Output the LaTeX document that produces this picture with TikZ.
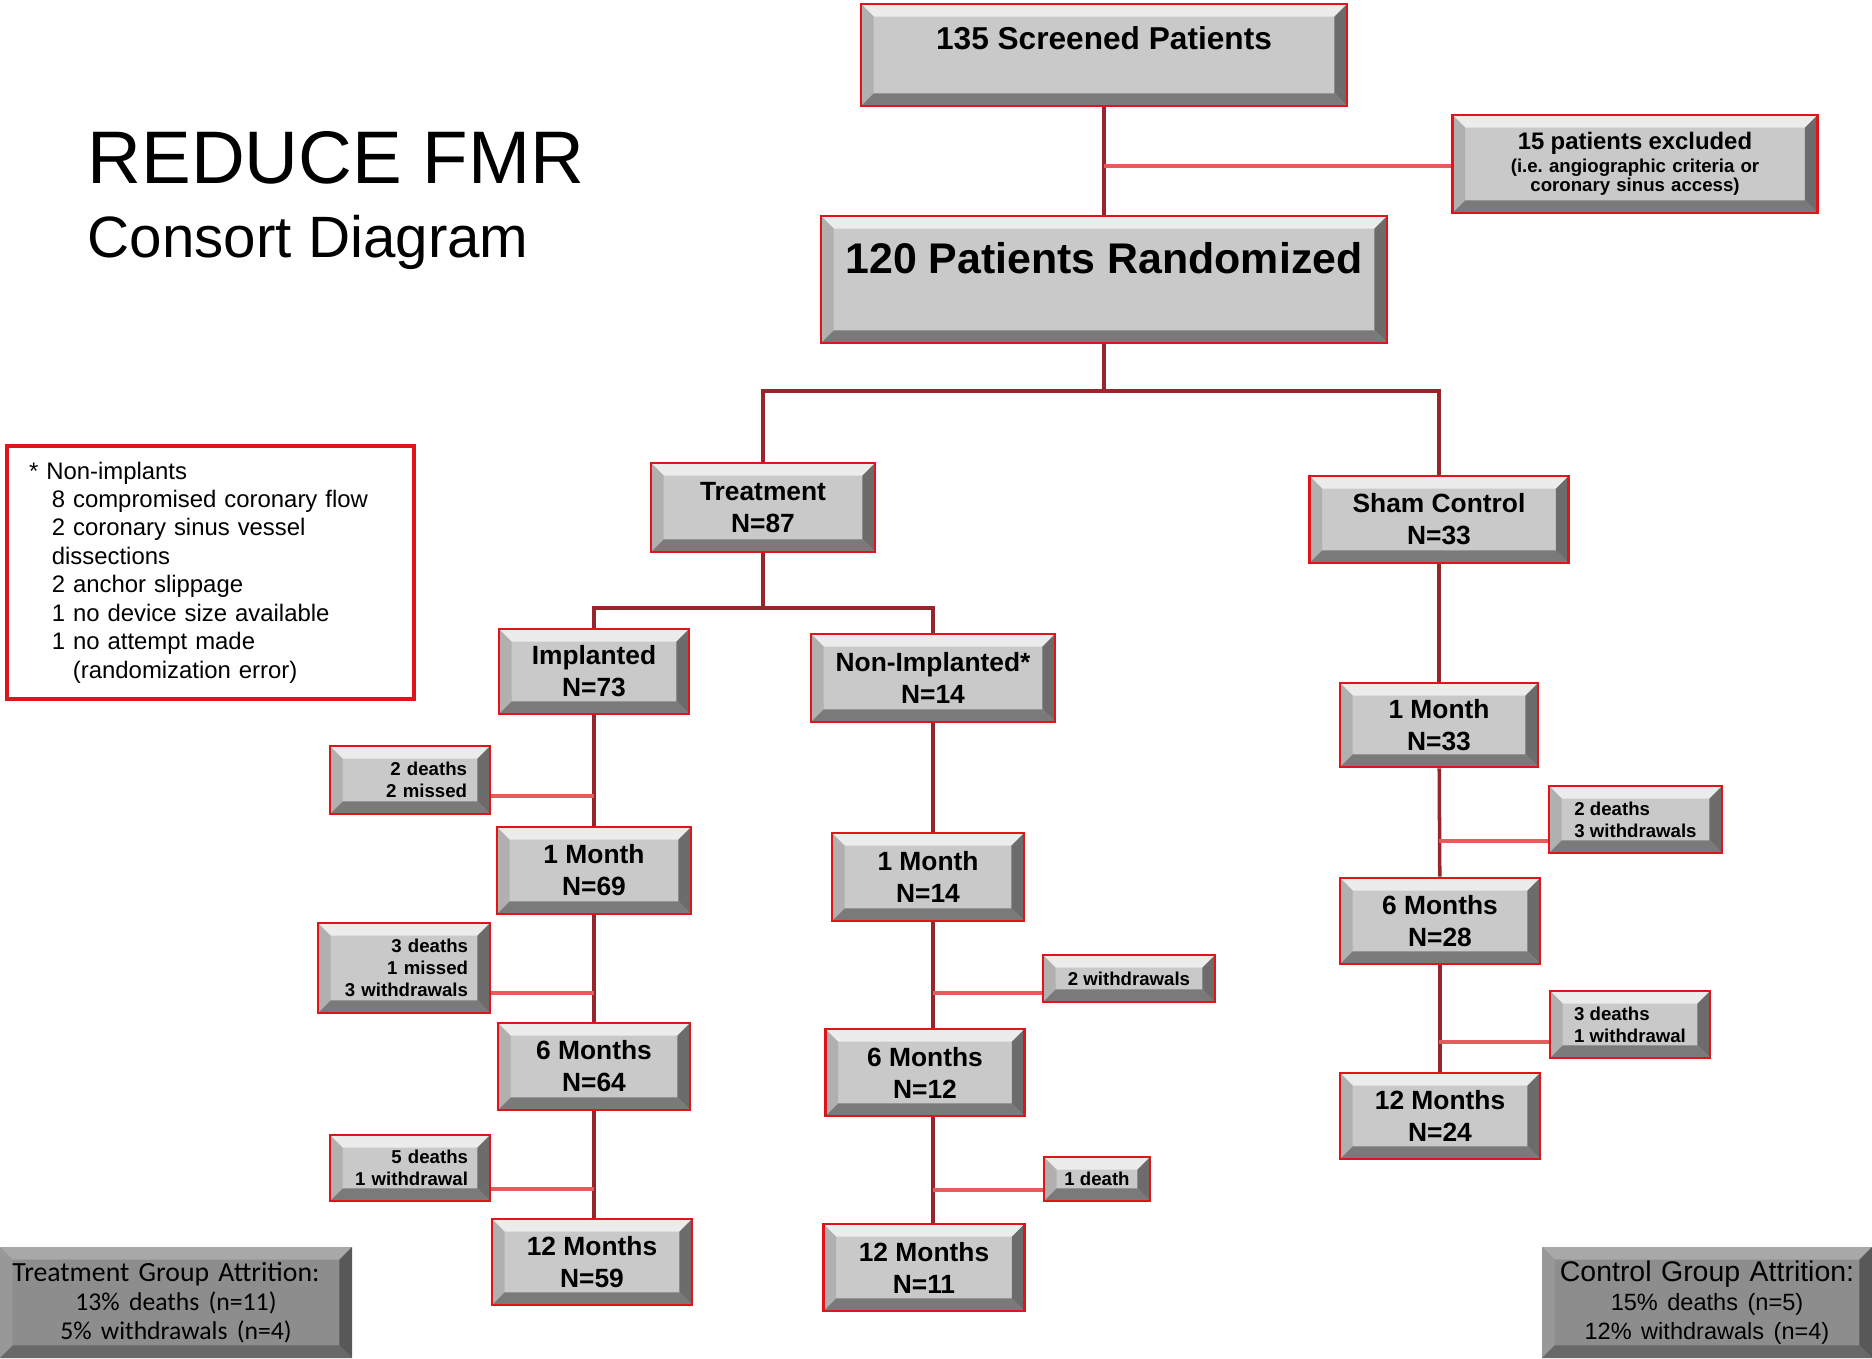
\documentclass[tikz,border=0pt]{standalone}
\usepackage{fontspec}
\setmainfont{Liberation Sans}
\newfontfamily\calibfont{Carlito}

\definecolor{boxred}{RGB}{225,20,25}
\definecolor{connred}{RGB}{150,38,44}
\definecolor{sidered}{RGB}{230,92,92}
\definecolor{bvface}{RGB}{201,201,201}
\definecolor{bvtop}{RGB}{236,236,236}
\definecolor{bvleft}{RGB}{176,176,176}
\definecolor{bvright}{RGB}{108,108,108}
\definecolor{bvbot}{RGB}{122,122,122}
\definecolor{atface}{RGB}{141,141,141}
\definecolor{attop}{RGB}{168,168,168}
\definecolor{atleft}{RGB}{152,152,152}
\definecolor{atright}{RGB}{88,88,88}
\definecolor{atbot}{RGB}{104,104,104}

\newcommand\bvw{3.6pt}

\tikzset{
  bevel/.style n args={5}{fill=#1, path picture={
      \coordinate (pa) at (path picture bounding box.north west);
      \coordinate (pb) at (path picture bounding box.north east);
      \coordinate (pc) at (path picture bounding box.south east);
      \coordinate (pd) at (path picture bounding box.south west);
      \fill[#2] (pa) -- (pb) -- ([shift={(-\bvw,-\bvw)}]pb) -- ([shift={(\bvw,-\bvw)}]pa) -- cycle;
      \fill[#3] (pa) -- (pd) -- ([shift={(\bvw,\bvw)}]pd) -- ([shift={(\bvw,-\bvw)}]pa) -- cycle;
      \fill[#4] (pb) -- (pc) -- ([shift={(-\bvw,\bvw)}]pc) -- ([shift={(-\bvw,-\bvw)}]pb) -- cycle;
      \fill[#5] (pd) -- (pc) -- ([shift={(-\bvw,\bvw)}]pc) -- ([shift={(\bvw,\bvw)}]pd) -- cycle;
  }},
  sz/.style 2 args={minimum width=#1, minimum height=#2},
  pbox/.style={bevel={bvface}{bvtop}{bvleft}{bvright}{bvbot}, draw=boxred, line width=0.8pt,
    inner sep=1pt, align=center, font=\bfseries\fontsize{7.5}{9.1}\selectfont},
  sidebox/.style={pbox, font=\bfseries\fontsize{5.3}{6.2}\selectfont,
    execute at begin node={\hyphenpenalty=10000\relax}},
  attr/.style={bevel={atface}{attop}{atleft}{atright}{atbot}, inner sep=1pt, align=center},
  conn/.style={draw=connred, line width=1pt},
  sideline/.style={draw=sidered, line width=0.9pt},
}

\begin{document}
\begin{tikzpicture}[x=0.1mm,y=-0.1mm]
  \useasboundingbox (0,0) rectangle (1872,1358);

  % title
  \node[anchor=base west, inner sep=0, font=\fontsize{21.2}{24}\selectfont] (title) at (87,183) {REDUCE FMR};
  \node[anchor=base west, inner sep=0, font=\fontsize{16.6}{20}\selectfont] (subtitle) at (87,257) {Consort Diagram};

  % top of the tree
  \node[pbox, sz={48.6mm}{10.2mm}, font=\bfseries\fontsize{9}{11}\selectfont, text height=6.6pt, text depth=10pt] (scr) at (1104,55) {135 Screened Patients};
  \node[pbox, sz={36.5mm}{9.8mm}, text width=34mm, inner xsep=1.25mm, font=\bfseries\fontsize{5.3}{5.6}\selectfont] (excl) at (1635,164)
    {{\fontsize{6.8}{5.6}\selectfont 15 patients excluded}\\[0.9pt](i.e.\ angiographic criteria or\\coronary sinus access)};
  \node[pbox, sz={56.6mm}{12.7mm}, font=\bfseries\fontsize{12.2}{14}\selectfont, text height=9pt, text depth=12.6pt] (rand) at (1104,279.5) {120 Patients Randomized};

  \node[pbox, sz={22.4mm}{8.9mm}] (treat) at (763,507.5) {Treatment\\N=87};
  \node[pbox, sz={25.9mm}{8.7mm}] (sham) at (1439,519.5) {Sham Control\\N=33};

  % implanted
  \node[pbox, sz={19mm}{8.5mm}] (imp) at (594,671.5) {Implanted\\N=73};
  \node[pbox, sz={19.4mm}{8.7mm}] (imone) at (594,870.5) {1 Month\\N=69};
  \node[pbox, sz={19.2mm}{8.7mm}] (imsix) at (594,1066.5) {6 Months\\N=64};
  \node[pbox, sz={20mm}{8.6mm}] (imtwelve) at (592,1262) {12 Months\\N=59};
  \node[sidebox, sz={16mm}{6.8mm}, align=right, text width=11.4mm, inner xsep=2.3mm] (sdone) at (410,780) {2 deaths\\2 missed};
  \node[sidebox, sz={17.2mm}{9mm}, align=right, text width=12.8mm, inner xsep=2.2mm] (sdtwo) at (404,968) {3 deaths\\1 missed\\3 withdrawals};
  \node[sidebox, sz={16mm}{6.6mm}, align=right, text width=11.6mm, inner xsep=2.2mm] (sdthree) at (410,1168) {5 deaths\\1 withdrawal};

  % non-implanted
  \node[pbox, sz={24.4mm}{8.8mm}] (nonimp) at (933,678) {Non-Implanted*\\N=14};
  \node[pbox, sz={19.2mm}{8.8mm}] (nione) at (928,877) {1 Month\\N=14};
  \node[pbox, sz={19.9mm}{8.7mm}] (nisix) at (925,1072.5) {6 Months\\N=12};
  \node[pbox, sz={20.1mm}{8.7mm}] (nitwelve) at (924,1267.5) {12 Months\\N=11};
  \node[sidebox, sz={17.2mm}{4.7mm}] (ndone) at (1129,978.5) {2 withdrawals};
  \node[sidebox, sz={10.6mm}{4.4mm}] (ndtwo) at (1097,1179) {1 death};

  % sham
  \node[pbox, sz={19.8mm}{8.4mm}] (shone) at (1439,725) {1 Month\\N=33};
  \node[pbox, sz={20mm}{8.6mm}] (shsix) at (1440,921) {6 Months\\N=28};
  \node[pbox, sz={20mm}{8.6mm}] (shtwelve) at (1440,1116) {12 Months\\N=24};
  \node[sidebox, sz={17.3mm}{6.7mm}, align=left] (shdone) at (1635.5,819.5) {2 deaths\\3 withdrawals};
  \node[sidebox, sz={16mm}{6.7mm}, align=left] (shdtwo) at (1630,1024.5) {3 deaths\\1 withdrawal};

  % footnote box
  \node[draw=boxred, line width=1.3pt, sz={40.7mm}{25.3mm}, text width=36.3mm, inner xsep=2.2mm, inner ysep=1pt,
        align=left, font=\fontsize{6.8}{8.1}\selectfont] (note) at (210.5,572.5)
    {* Non-implants\\
     \hspace*{6.5pt}8 compromised coronary flow\\
     \hspace*{6.5pt}2 coronary sinus vessel\\
     \hspace*{6.5pt}dissections\\
     \hspace*{6.5pt}2 anchor slippage\\
     \hspace*{6.5pt}1 no device size available\\
     \hspace*{6.5pt}1 no attempt made\\
     \hspace*{12.5pt}(randomization error)};

  % attrition
  \node[attr, sz={35.2mm}{11.1mm}, text width=34mm, inner xsep=0.6mm, font=\calibfont\fontsize{7.9}{8.25}\selectfont] (attrt) at (176,1302.5)
    {\kern-2mm Treatment Group Attrition:\\{\fontsize{7.3}{8.25}\selectfont 13\% deaths (n=11)}\\{\fontsize{7.3}{8.25}\selectfont 5\% withdrawals (n=4)}};
  \node[attr, sz={33mm}{11.1mm}, text width=32mm, inner xsep=0.5mm, font=\fontsize{8.1}{8.25}\selectfont] (attrc) at (1707,1302.5)
    {Control Group Attrition:\\{\fontsize{6.7}{8.25}\selectfont 15\% deaths (n=5)}\\{\fontsize{6.7}{8.25}\selectfont 12\% withdrawals (n=4)}};

  % connectors
  \coordinate (jexcl) at (1104,166);
  \coordinate (jrand) at (1104,391);
  \coordinate (jtreat) at (763,608);
  \draw[conn] (scr) -- (rand);
  \draw[sideline] (jexcl) -- (jexcl -| excl.west);
  \draw[conn] (rand) -- (jrand);
  \draw[conn] (treat.north) |- (jrand) -| (sham.north);
  \draw[conn] (treat) -- (jtreat);
  \draw[conn] (imp.north) |- (jtreat) -| (nonimp.north);

  \draw[conn] (imp) -- (imone);
  \draw[conn] (imone) -- (imsix);
  \draw[conn] (imsix) -- (imtwelve.north -| imsix.south);
  \coordinate (jimone) at (594,796);
  \coordinate (jimtwo) at (594,993);
  \coordinate (jimthree) at (594,1189);
  \draw[sideline] (jimone -| sdone.east) -- (jimone);
  \draw[sideline] (jimtwo -| sdtwo.east) -- (jimtwo);
  \draw[sideline] (jimthree -| sdthree.east) -- (jimthree);

  \draw[conn] (nonimp.south) -- (nonimp.south |- nione.north);
  \draw[conn] (nione.south -| nonimp.south) -- (nisix.north -| nonimp.south);
  \draw[conn] (nisix.south -| nonimp.south) -- (nitwelve.north -| nonimp.south);
  \coordinate (jnione) at (933,993);
  \coordinate (jnitwo) at (933,1190);
  \draw[sideline] (jnione) -- (jnione -| ndone.west);
  \draw[sideline] (jnitwo) -- (jnitwo -| ndtwo.west);

  \draw[conn] (sham) -- (shone);
  \draw[conn] (shone) -- (shsix);
  \draw[conn] (shsix) -- (shtwelve);
  \coordinate (jshone) at (1439,841);
  \coordinate (jshtwo) at (1439,1042);
  \draw[sideline] (jshone) -- (jshone -| shdone.west);
  \draw[sideline] (jshtwo) -- (jshtwo -| shdtwo.west);
\end{tikzpicture}
\end{document}
